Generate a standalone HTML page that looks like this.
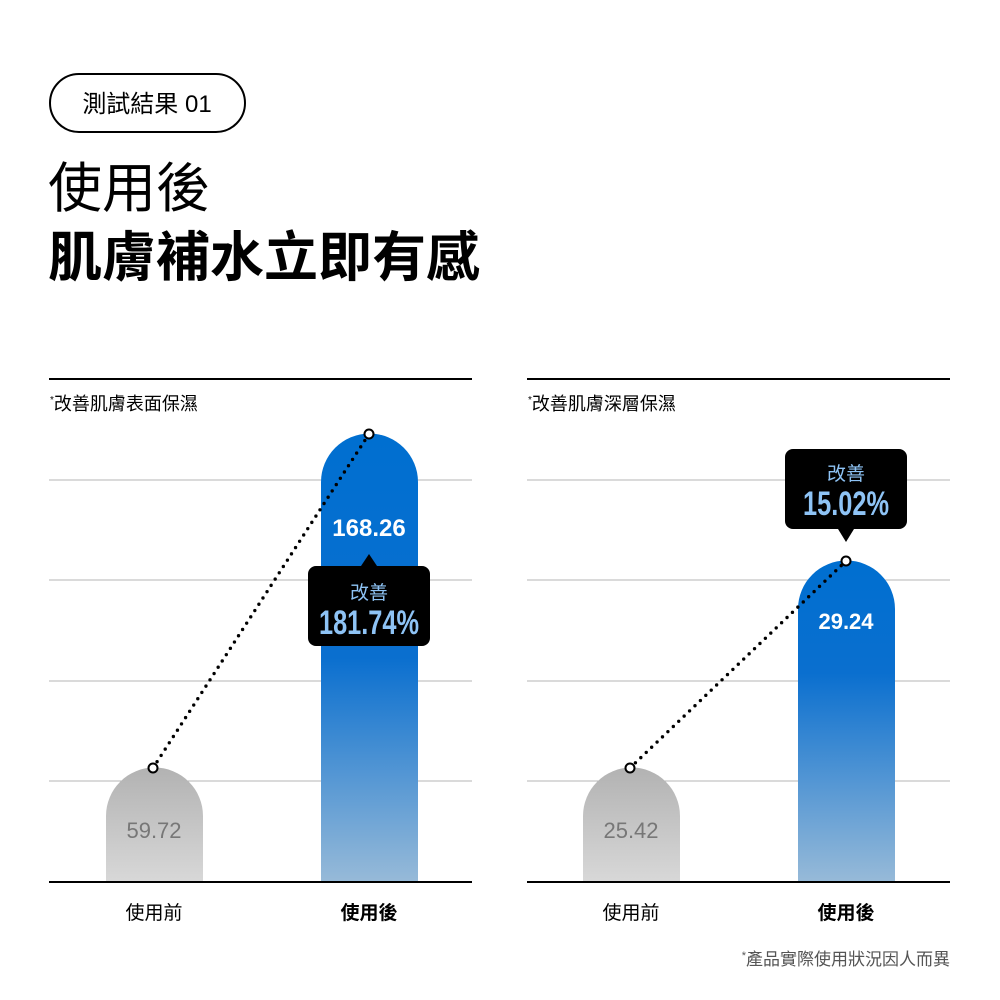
<!DOCTYPE html>
<html><head><meta charset="utf-8"><style>
html,body{margin:0;padding:0;background:#fff;width:1000px;height:1000px;overflow:hidden}
svg text{font-family:"Liberation Sans","Noto Sans CJK TC",sans-serif}
</style></head><body>
<svg width="1000" height="1000" viewBox="0 0 1000 1000" xmlns="http://www.w3.org/2000/svg">
<defs>
<linearGradient id="bl" x1="0" y1="0" x2="0" y2="1"><stop offset="0" stop-color="#006fd0"/><stop offset="0.5" stop-color="#0a6fcf"/><stop offset="1" stop-color="#97bad8"/></linearGradient>
<linearGradient id="bl2" x1="0" y1="0" x2="0" y2="1"><stop offset="0" stop-color="#006fd0"/><stop offset="0.35" stop-color="#0a6fcf"/><stop offset="1" stop-color="#97bad8"/></linearGradient>
<linearGradient id="gr" x1="0" y1="0" x2="0" y2="1"><stop offset="0" stop-color="#b2b2b2"/><stop offset="1" stop-color="#d8d8d8"/></linearGradient>
</defs>
<rect x="50" y="74" width="195" height="58" rx="29" fill="none" stroke="#000" stroke-width="2"/>
<text x="147" y="112" font-size="24" text-anchor="middle">測試結果 01</text>
<text x="48" y="207" font-size="54">使用後</text>
<text x="48" y="276" font-size="54" font-weight="bold">肌膚補水立即有感</text>

<g stroke="#b5b5b5" stroke-width="1">
<line x1="49" y1="480" x2="472" y2="480"/><line x1="49" y1="580" x2="472" y2="580"/><line x1="49" y1="681" x2="472" y2="681"/><line x1="49" y1="781" x2="472" y2="781"/>
<line x1="527" y1="480" x2="950" y2="480"/><line x1="527" y1="580" x2="950" y2="580"/><line x1="527" y1="681" x2="950" y2="681"/><line x1="527" y1="781" x2="950" y2="781"/>
</g>
<line x1="49" y1="379" x2="472" y2="379" stroke="#000" stroke-width="2"/>
<line x1="527" y1="379" x2="950" y2="379" stroke="#000" stroke-width="2"/>
<text x="50" y="410" font-size="18"><tspan font-size="10" dy="-7">*</tspan><tspan dy="7">改善肌膚表面保濕</tspan></text>
<text x="528" y="410" font-size="18"><tspan font-size="10" dy="-7">*</tspan><tspan dy="7">改善肌膚深層保濕</tspan></text>

<path d="M106 882 V816 A48.5 48.5 0 0 1 203 816 V882 Z" fill="url(#gr)"/>
<path d="M321 882 V482 A48.5 48.5 0 0 1 418 482 V882 Z" fill="url(#bl)"/>
<path d="M583 882 V816 A48.5 48.5 0 0 1 680 816 V882 Z" fill="url(#gr)"/>
<path d="M798 882 V609 A48.5 48.5 0 0 1 895 609 V882 Z" fill="url(#bl2)"/>

<line x1="49" y1="882" x2="472" y2="882" stroke="#000" stroke-width="2"/>
<line x1="527" y1="882" x2="950" y2="882" stroke="#000" stroke-width="2"/>

<line x1="153" y1="768" x2="369" y2="434" stroke="#000" stroke-width="3.4" stroke-dasharray="0 7.5" stroke-linecap="round"/>
<line x1="630" y1="768" x2="846" y2="561" stroke="#000" stroke-width="3.4" stroke-dasharray="0 7.5" stroke-linecap="round"/>
<g fill="#fff" stroke="#000" stroke-width="2">
<circle cx="153" cy="768" r="4.5"/><circle cx="369" cy="434" r="4.5"/><circle cx="630" cy="768" r="4.5"/><circle cx="846" cy="561" r="4.5"/>
</g>

<text x="154" y="838" font-size="22" fill="#777" text-anchor="middle">59.72</text>
<text x="369" y="536" font-size="24" font-weight="bold" fill="#fff" text-anchor="middle">168.26</text>
<text x="631" y="838" font-size="22" fill="#777" text-anchor="middle">25.42</text>
<text x="846" y="629" font-size="22" font-weight="bold" fill="#fff" text-anchor="middle">29.24</text>

<path d="M361 566 L369 554 L377 566 Z" fill="#000"/>
<rect x="308" y="566" width="122" height="80" rx="8" fill="#000"/>
<text x="369" y="599" font-size="19" fill="#8ec3f5" text-anchor="middle">改善</text>
<text x="369" y="634" font-size="34" font-weight="bold" fill="#8ec3f5" text-anchor="middle" textLength="100" lengthAdjust="spacingAndGlyphs">181.74%</text>

<rect x="785" y="449" width="122" height="80" rx="8" fill="#000"/>
<path d="M838 529 L846 542 L854 529 Z" fill="#000"/>
<text x="846" y="480" font-size="19" fill="#8ec3f5" text-anchor="middle">改善</text>
<text x="846" y="515" font-size="34" font-weight="bold" fill="#8ec3f5" text-anchor="middle" textLength="86" lengthAdjust="spacingAndGlyphs">15.02%</text>

<text x="154" y="919" font-size="19" text-anchor="middle">使用前</text>
<text x="369" y="919" font-size="19" font-weight="bold" text-anchor="middle">使用後</text>
<text x="631" y="919" font-size="19" text-anchor="middle">使用前</text>
<text x="846" y="919" font-size="19" font-weight="bold" text-anchor="middle">使用後</text>

<text x="950" y="965" font-size="17" fill="#555" text-anchor="end"><tspan font-size="11" dy="-6">*</tspan><tspan dy="6">產品實際使用狀況因人而異</tspan></text>
</svg>
</body></html>
